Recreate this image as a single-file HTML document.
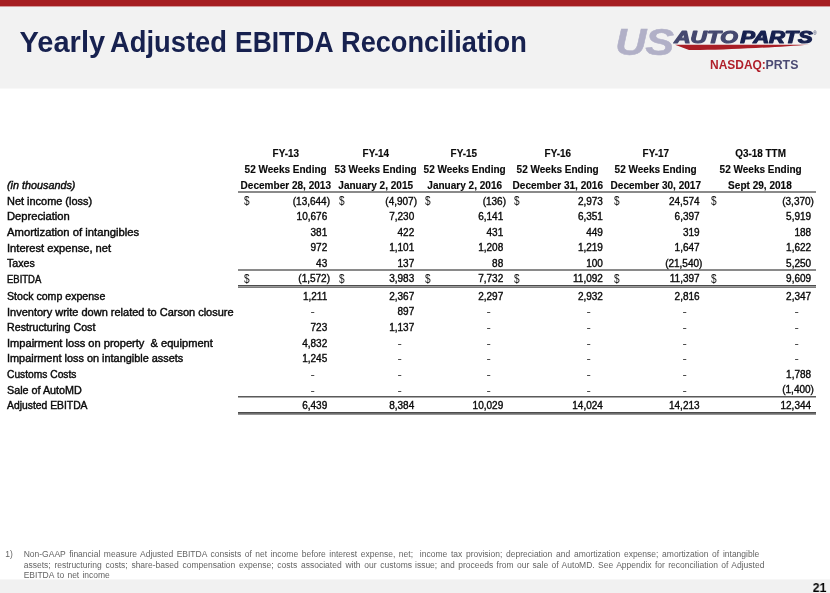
<!DOCTYPE html>
<html><head><meta charset="utf-8"><title>Yearly Adjusted EBITDA Reconciliation</title>
<style>
html,body{margin:0;padding:0;}
body{will-change:transform;width:830px;height:593px;position:relative;overflow:hidden;background:#fff;font-family:"Liberation Sans",sans-serif;}
.t{position:absolute;white-space:pre;line-height:1;display:block;}
.r{position:absolute;}
</style></head><body>
<div class="r" style="left:0;top:0;width:830px;height:88px;background:#f2f2f2"></div>
<div class="r" style="left:0;top:88px;width:830px;height:1px;background:#f8f8f8"></div>
<div class="r" style="left:0;top:0;width:830px;height:6px;background:#a61e22"></div>
<div class="r" style="left:0;top:6px;width:830px;height:1px;background:#d3999b"></div>
<div class="r" style="left:0;top:579px;width:830px;height:14px;background:#f1f1f1"></div>
<div class="r" style="left:0;top:579px;width:830px;height:1px;background:#f7f7f7"></div>
<!-- table rules -->
<div class="r" style="left:238px;top:191px;width:578px;height:1px;background:#8a8a8a"></div>
<div class="r" style="left:238px;top:192px;width:578px;height:1px;background:#8a8a8a"></div>
<div class="r" style="left:238px;top:269px;width:578px;height:1px;background:#8a8a8a"></div>
<div class="r" style="left:238px;top:270px;width:578px;height:1px;background:#8a8a8a"></div>
<div class="r" style="left:238px;top:285px;width:578px;height:1px;background:#4c4c4c"></div>
<div class="r" style="left:238px;top:286px;width:578px;height:1px;background:#9c9c9c"></div>
<div class="r" style="left:238px;top:287px;width:578px;height:1px;background:#7c7c7c"></div>
<div class="r" style="left:238px;top:396px;width:578px;height:1px;background:#5a5a5a"></div>
<div class="r" style="left:238px;top:397px;width:578px;height:1px;background:#aaaaaa"></div>
<div class="r" style="left:238px;top:412px;width:578px;height:1px;background:#4c4c4c"></div>
<div class="r" style="left:238px;top:413px;width:578px;height:1px;background:#6e6e6e"></div>
<div class="r" style="left:238px;top:414px;width:578px;height:1px;background:#949494"></div>
<!-- logo -->
<svg class="r" style="left:610px;top:24px" width="220" height="36" viewBox="610 24 220 36">
 <g font-family="Liberation Sans" font-style="italic" font-weight="700" font-size="36.9" fill="#b1b0c7" stroke="#b1b0c7" stroke-width="0.5">
  <text x="0" y="0" transform="translate(615.3 55.1) scale(1.17 1)">U</text>
  <text x="0" y="0" transform="translate(645.2 55.1) scale(1.17 1)">S</text>
 </g>
 <g font-family="Liberation Sans" font-style="italic" font-weight="700" font-size="16.6" stroke-width="1.15" stroke-linejoin="round">
  <text x="0" y="0" transform="translate(674.2 43.4) scale(1.365 1)" fill="#45486f" stroke="#45486f">AUTO</text>
  <text x="0" y="0" transform="translate(740.2 43.4) scale(1.325 1)" fill="#17214f" stroke="#17214f">PARTS</text>
 </g>
 <path d="M675 44.7 L809.5 44.7 C780 46.8 735 49.6 700 50.1 L689 50.1 Z" fill="#a91e26"/>
 <text x="813.3" y="35.3" font-family="Liberation Sans" font-size="4.5" fill="#17214f">®</text>
</svg>
<span class="t" style="top:28.05px;font-size:29.0px;color:#17214f;font-weight:700;left:19.60px;transform-origin:0 0;">Yearly</span>
<span class="t" style="top:28.05px;font-size:29.0px;color:#17214f;font-weight:700;left:110.00px;transform-origin:0 0;transform:scaleX(0.9431);">Adjusted</span>
<span class="t" style="top:28.05px;font-size:29.0px;color:#17214f;font-weight:700;left:235.00px;transform-origin:0 0;transform:scaleX(0.9125);">EBITDA</span>
<span class="t" style="top:28.05px;font-size:29.0px;color:#17214f;font-weight:700;left:340.50px;transform-origin:0 0;transform:scaleX(0.9374);">Reconciliation</span>
<span class="t" style="top:59.22px;font-size:12.5px;color:#b01f2a;font-weight:700;left:710.20px;transform-origin:0 0;transform:scaleX(0.9566);">NASDAQ:</span>
<span class="t" style="top:59.22px;font-size:12.5px;color:#4b4a73;font-weight:700;left:764.96px;transform-origin:100% 0;transform:scaleX(0.9839);">PRTS</span>
<span class="t" style="top:196.87px;font-size:10.2px;color:#0a0a0a;-webkit-text-stroke:0.4px #0a0a0a;left:6.70px;transform-origin:0 0;transform:scaleX(1.0737);">Net income (loss)</span>
<span class="t" style="top:212.43px;font-size:10.2px;color:#0a0a0a;-webkit-text-stroke:0.4px #0a0a0a;left:6.70px;transform-origin:0 0;transform:scaleX(1.0980);">Depreciation</span>
<span class="t" style="top:227.99px;font-size:10.2px;color:#0a0a0a;-webkit-text-stroke:0.4px #0a0a0a;left:6.70px;transform-origin:0 0;transform:scaleX(1.1056);">Amortization of intangibles</span>
<span class="t" style="top:243.55px;font-size:10.2px;color:#0a0a0a;-webkit-text-stroke:0.4px #0a0a0a;left:6.70px;transform-origin:0 0;transform:scaleX(1.0941);">Interest expense, net</span>
<span class="t" style="top:259.11px;font-size:10.2px;color:#0a0a0a;-webkit-text-stroke:0.4px #0a0a0a;left:6.70px;transform-origin:0 0;transform:scaleX(1.0447);">Taxes</span>
<span class="t" style="top:274.67px;font-size:10.2px;color:#0a0a0a;-webkit-text-stroke:0.4px #0a0a0a;left:6.70px;transform-origin:0 0;transform:scaleX(0.9295);">EBITDA</span>
<span class="t" style="top:291.87px;font-size:10.2px;color:#0a0a0a;-webkit-text-stroke:0.4px #0a0a0a;left:6.70px;transform-origin:0 0;transform:scaleX(1.0395);">Stock comp expense</span>
<span class="t" style="top:307.50px;font-size:10.2px;color:#0a0a0a;-webkit-text-stroke:0.4px #0a0a0a;left:6.70px;transform-origin:0 0;transform:scaleX(1.0787);">Inventory write down related to Carson closure</span>
<span class="t" style="top:323.13px;font-size:10.2px;color:#0a0a0a;-webkit-text-stroke:0.4px #0a0a0a;left:6.70px;transform-origin:0 0;transform:scaleX(1.0479);">Restructuring Cost</span>
<span class="t" style="top:338.76px;font-size:10.2px;color:#0a0a0a;-webkit-text-stroke:0.4px #0a0a0a;left:6.70px;transform-origin:0 0;transform:scaleX(1.0882);">Impairment loss on property &nbsp;&amp; equipment</span>
<span class="t" style="top:354.39px;font-size:10.2px;color:#0a0a0a;-webkit-text-stroke:0.4px #0a0a0a;left:6.70px;transform-origin:0 0;transform:scaleX(1.0699);">Impairment loss on intangible assets</span>
<span class="t" style="top:370.02px;font-size:10.2px;color:#0a0a0a;-webkit-text-stroke:0.4px #0a0a0a;left:6.70px;transform-origin:0 0;transform:scaleX(1.0049);">Customs Costs</span>
<span class="t" style="top:385.65px;font-size:10.2px;color:#0a0a0a;-webkit-text-stroke:0.4px #0a0a0a;left:6.70px;transform-origin:0 0;transform:scaleX(1.0568);">Sale of AutoMD</span>
<span class="t" style="top:401.28px;font-size:10.2px;color:#0a0a0a;-webkit-text-stroke:0.4px #0a0a0a;left:6.70px;transform-origin:0 0;transform:scaleX(1.0155);">Adjusted EBITDA</span>
<span class="t" style="top:181.27px;font-size:10.2px;color:#0a0a0a;font-style:italic;-webkit-text-stroke:0.4px #0a0a0a;left:6.90px;transform-origin:0 0;transform:scaleX(1.0595);">(in thousands)</span>
<span class="t" style="top:148.80px;font-size:10.4px;color:#0a0a0a;font-weight:700;-webkit-text-stroke:0.15px #0a0a0a;left:272.14px;transform-origin:50% 0;transform:scaleX(0.9550);">FY-13</span>
<span class="t" style="top:165.10px;font-size:10.4px;color:#0a0a0a;font-weight:700;-webkit-text-stroke:0.15px #0a0a0a;left:243.36px;transform-origin:50% 0;transform:scaleX(0.9630);">52 Weeks Ending</span>
<span class="t" style="top:180.70px;font-size:10.4px;color:#0a0a0a;font-weight:700;-webkit-text-stroke:0.15px #0a0a0a;left:239.21px;transform-origin:50% 0;transform:scaleX(0.9660);">December 28, 2013</span>
<span class="t" style="top:148.80px;font-size:10.4px;color:#0a0a0a;font-weight:700;-webkit-text-stroke:0.15px #0a0a0a;left:362.14px;transform-origin:50% 0;transform:scaleX(0.9550);">FY-14</span>
<span class="t" style="top:165.10px;font-size:10.4px;color:#0a0a0a;font-weight:700;-webkit-text-stroke:0.15px #0a0a0a;left:333.36px;transform-origin:50% 0;transform:scaleX(0.9630);">53 Weeks Ending</span>
<span class="t" style="top:180.70px;font-size:10.4px;color:#0a0a0a;font-weight:700;-webkit-text-stroke:0.15px #0a0a0a;left:337.30px;transform-origin:50% 0;transform:scaleX(0.9660);">January 2, 2015</span>
<span class="t" style="top:148.80px;font-size:10.4px;color:#0a0a0a;font-weight:700;-webkit-text-stroke:0.15px #0a0a0a;left:450.44px;transform-origin:50% 0;transform:scaleX(0.9550);">FY-15</span>
<span class="t" style="top:165.10px;font-size:10.4px;color:#0a0a0a;font-weight:700;-webkit-text-stroke:0.15px #0a0a0a;left:421.66px;transform-origin:50% 0;transform:scaleX(0.9630);">52 Weeks Ending</span>
<span class="t" style="top:180.70px;font-size:10.4px;color:#0a0a0a;font-weight:700;-webkit-text-stroke:0.15px #0a0a0a;left:425.60px;transform-origin:50% 0;transform:scaleX(0.9660);">January 2, 2016</span>
<span class="t" style="top:148.80px;font-size:10.4px;color:#0a0a0a;font-weight:700;-webkit-text-stroke:0.15px #0a0a0a;left:543.94px;transform-origin:50% 0;transform:scaleX(0.9550);">FY-16</span>
<span class="t" style="top:165.10px;font-size:10.4px;color:#0a0a0a;font-weight:700;-webkit-text-stroke:0.15px #0a0a0a;left:515.16px;transform-origin:50% 0;transform:scaleX(0.9630);">52 Weeks Ending</span>
<span class="t" style="top:180.70px;font-size:10.4px;color:#0a0a0a;font-weight:700;-webkit-text-stroke:0.15px #0a0a0a;left:511.01px;transform-origin:50% 0;transform:scaleX(0.9660);">December 31, 2016</span>
<span class="t" style="top:148.80px;font-size:10.4px;color:#0a0a0a;font-weight:700;-webkit-text-stroke:0.15px #0a0a0a;left:642.14px;transform-origin:50% 0;transform:scaleX(0.9550);">FY-17</span>
<span class="t" style="top:165.10px;font-size:10.4px;color:#0a0a0a;font-weight:700;-webkit-text-stroke:0.15px #0a0a0a;left:613.36px;transform-origin:50% 0;transform:scaleX(0.9630);">52 Weeks Ending</span>
<span class="t" style="top:180.70px;font-size:10.4px;color:#0a0a0a;font-weight:700;-webkit-text-stroke:0.15px #0a0a0a;left:609.21px;transform-origin:50% 0;transform:scaleX(0.9660);">December 30, 2017</span>
<span class="t" style="top:148.80px;font-size:10.4px;color:#0a0a0a;font-weight:700;-webkit-text-stroke:0.15px #0a0a0a;left:733.64px;transform-origin:50% 0;transform:scaleX(0.9550);">Q3-18 TTM</span>
<span class="t" style="top:165.10px;font-size:10.4px;color:#0a0a0a;font-weight:700;-webkit-text-stroke:0.15px #0a0a0a;left:717.56px;transform-origin:50% 0;transform:scaleX(0.9630);">52 Weeks Ending</span>
<span class="t" style="top:180.70px;font-size:10.4px;color:#0a0a0a;font-weight:700;-webkit-text-stroke:0.15px #0a0a0a;left:727.28px;transform-origin:50% 0;transform:scaleX(0.9660);">Sept 29, 2018</span>
<span class="t" style="top:196.68px;font-size:10.0px;color:#0a0a0a;-webkit-text-stroke:0.36px #0a0a0a;left:292.75px;transform-origin:100% 0;">(13,644)</span>
<span class="t" style="top:196.68px;font-size:10.0px;color:#0a0a0a;-webkit-text-stroke:0.36px #0a0a0a;left:385.32px;transform-origin:100% 0;">(4,907)</span>
<span class="t" style="top:196.68px;font-size:10.0px;color:#0a0a0a;-webkit-text-stroke:0.36px #0a0a0a;left:482.66px;transform-origin:100% 0;">(136)</span>
<span class="t" style="top:196.68px;font-size:10.0px;color:#0a0a0a;-webkit-text-stroke:0.36px #0a0a0a;left:577.88px;transform-origin:100% 0;">2,973</span>
<span class="t" style="top:196.68px;font-size:10.0px;color:#0a0a0a;-webkit-text-stroke:0.36px #0a0a0a;left:669.01px;transform-origin:100% 0;">24,574</span>
<span class="t" style="top:196.68px;font-size:10.0px;color:#0a0a0a;-webkit-text-stroke:0.36px #0a0a0a;left:782.22px;transform-origin:100% 0;">(3,370)</span>
<span class="t" style="top:195.14px;font-size:12.0px;color:#111;left:244.30px;transform-origin:0 0;transform:scaleX(0.8400);">$</span>
<span class="t" style="top:195.14px;font-size:12.0px;color:#111;left:339.10px;transform-origin:0 0;transform:scaleX(0.8400);">$</span>
<span class="t" style="top:195.14px;font-size:12.0px;color:#111;left:425.10px;transform-origin:0 0;transform:scaleX(0.8400);">$</span>
<span class="t" style="top:195.14px;font-size:12.0px;color:#111;left:514.10px;transform-origin:0 0;transform:scaleX(0.8400);">$</span>
<span class="t" style="top:195.14px;font-size:12.0px;color:#111;left:613.70px;transform-origin:0 0;transform:scaleX(0.8400);">$</span>
<span class="t" style="top:195.14px;font-size:12.0px;color:#111;left:710.80px;transform-origin:0 0;transform:scaleX(0.8400);">$</span>
<span class="t" style="top:212.24px;font-size:10.0px;color:#0a0a0a;-webkit-text-stroke:0.36px #0a0a0a;left:296.61px;transform-origin:100% 0;">10,676</span>
<span class="t" style="top:212.24px;font-size:10.0px;color:#0a0a0a;-webkit-text-stroke:0.36px #0a0a0a;left:389.18px;transform-origin:100% 0;">7,230</span>
<span class="t" style="top:212.24px;font-size:10.0px;color:#0a0a0a;-webkit-text-stroke:0.36px #0a0a0a;left:478.18px;transform-origin:100% 0;">6,141</span>
<span class="t" style="top:212.24px;font-size:10.0px;color:#0a0a0a;-webkit-text-stroke:0.36px #0a0a0a;left:577.88px;transform-origin:100% 0;">6,351</span>
<span class="t" style="top:212.24px;font-size:10.0px;color:#0a0a0a;-webkit-text-stroke:0.36px #0a0a0a;left:674.58px;transform-origin:100% 0;">6,397</span>
<span class="t" style="top:212.24px;font-size:10.0px;color:#0a0a0a;-webkit-text-stroke:0.36px #0a0a0a;left:786.08px;transform-origin:100% 0;">5,919</span>
<span class="t" style="top:227.80px;font-size:10.0px;color:#0a0a0a;-webkit-text-stroke:0.36px #0a0a0a;left:310.52px;transform-origin:100% 0;">381</span>
<span class="t" style="top:227.80px;font-size:10.0px;color:#0a0a0a;-webkit-text-stroke:0.36px #0a0a0a;left:397.52px;transform-origin:100% 0;">422</span>
<span class="t" style="top:227.80px;font-size:10.0px;color:#0a0a0a;-webkit-text-stroke:0.36px #0a0a0a;left:486.52px;transform-origin:100% 0;">431</span>
<span class="t" style="top:227.80px;font-size:10.0px;color:#0a0a0a;-webkit-text-stroke:0.36px #0a0a0a;left:586.22px;transform-origin:100% 0;">449</span>
<span class="t" style="top:227.80px;font-size:10.0px;color:#0a0a0a;-webkit-text-stroke:0.36px #0a0a0a;left:682.92px;transform-origin:100% 0;">319</span>
<span class="t" style="top:227.80px;font-size:10.0px;color:#0a0a0a;-webkit-text-stroke:0.36px #0a0a0a;left:794.42px;transform-origin:100% 0;">188</span>
<span class="t" style="top:243.36px;font-size:10.0px;color:#0a0a0a;-webkit-text-stroke:0.36px #0a0a0a;left:310.52px;transform-origin:100% 0;">972</span>
<span class="t" style="top:243.36px;font-size:10.0px;color:#0a0a0a;-webkit-text-stroke:0.36px #0a0a0a;left:389.18px;transform-origin:100% 0;">1,101</span>
<span class="t" style="top:243.36px;font-size:10.0px;color:#0a0a0a;-webkit-text-stroke:0.36px #0a0a0a;left:478.18px;transform-origin:100% 0;">1,208</span>
<span class="t" style="top:243.36px;font-size:10.0px;color:#0a0a0a;-webkit-text-stroke:0.36px #0a0a0a;left:577.88px;transform-origin:100% 0;">1,219</span>
<span class="t" style="top:243.36px;font-size:10.0px;color:#0a0a0a;-webkit-text-stroke:0.36px #0a0a0a;left:674.58px;transform-origin:100% 0;">1,647</span>
<span class="t" style="top:243.36px;font-size:10.0px;color:#0a0a0a;-webkit-text-stroke:0.36px #0a0a0a;left:786.08px;transform-origin:100% 0;">1,622</span>
<span class="t" style="top:258.93px;font-size:10.0px;color:#0a0a0a;-webkit-text-stroke:0.36px #0a0a0a;left:316.08px;transform-origin:100% 0;">43</span>
<span class="t" style="top:258.93px;font-size:10.0px;color:#0a0a0a;-webkit-text-stroke:0.36px #0a0a0a;left:397.52px;transform-origin:100% 0;">137</span>
<span class="t" style="top:258.93px;font-size:10.0px;color:#0a0a0a;-webkit-text-stroke:0.36px #0a0a0a;left:492.08px;transform-origin:100% 0;">88</span>
<span class="t" style="top:258.93px;font-size:10.0px;color:#0a0a0a;-webkit-text-stroke:0.36px #0a0a0a;left:586.22px;transform-origin:100% 0;">100</span>
<span class="t" style="top:258.93px;font-size:10.0px;color:#0a0a0a;-webkit-text-stroke:0.36px #0a0a0a;left:665.15px;transform-origin:100% 0;">(21,540)</span>
<span class="t" style="top:258.93px;font-size:10.0px;color:#0a0a0a;-webkit-text-stroke:0.36px #0a0a0a;left:786.08px;transform-origin:100% 0;">5,250</span>
<span class="t" style="top:274.49px;font-size:10.0px;color:#0a0a0a;-webkit-text-stroke:0.36px #0a0a0a;left:298.32px;transform-origin:100% 0;">(1,572)</span>
<span class="t" style="top:274.49px;font-size:10.0px;color:#0a0a0a;-webkit-text-stroke:0.36px #0a0a0a;left:389.18px;transform-origin:100% 0;">3,983</span>
<span class="t" style="top:274.49px;font-size:10.0px;color:#0a0a0a;-webkit-text-stroke:0.36px #0a0a0a;left:478.18px;transform-origin:100% 0;">7,732</span>
<span class="t" style="top:274.49px;font-size:10.0px;color:#0a0a0a;-webkit-text-stroke:0.36px #0a0a0a;left:573.06px;transform-origin:100% 0;">11,092</span>
<span class="t" style="top:274.49px;font-size:10.0px;color:#0a0a0a;-webkit-text-stroke:0.36px #0a0a0a;left:669.76px;transform-origin:100% 0;">11,397</span>
<span class="t" style="top:274.49px;font-size:10.0px;color:#0a0a0a;-webkit-text-stroke:0.36px #0a0a0a;left:786.08px;transform-origin:100% 0;">9,609</span>
<span class="t" style="top:272.94px;font-size:12.0px;color:#111;left:244.30px;transform-origin:0 0;transform:scaleX(0.8400);">$</span>
<span class="t" style="top:272.94px;font-size:12.0px;color:#111;left:339.10px;transform-origin:0 0;transform:scaleX(0.8400);">$</span>
<span class="t" style="top:272.94px;font-size:12.0px;color:#111;left:425.10px;transform-origin:0 0;transform:scaleX(0.8400);">$</span>
<span class="t" style="top:272.94px;font-size:12.0px;color:#111;left:514.10px;transform-origin:0 0;transform:scaleX(0.8400);">$</span>
<span class="t" style="top:272.94px;font-size:12.0px;color:#111;left:613.70px;transform-origin:0 0;transform:scaleX(0.8400);">$</span>
<span class="t" style="top:272.94px;font-size:12.0px;color:#111;left:710.80px;transform-origin:0 0;transform:scaleX(0.8400);">$</span>
<span class="t" style="top:291.69px;font-size:10.0px;color:#0a0a0a;-webkit-text-stroke:0.36px #0a0a0a;left:302.92px;transform-origin:100% 0;">1,211</span>
<span class="t" style="top:291.69px;font-size:10.0px;color:#0a0a0a;-webkit-text-stroke:0.36px #0a0a0a;left:389.18px;transform-origin:100% 0;">2,367</span>
<span class="t" style="top:291.69px;font-size:10.0px;color:#0a0a0a;-webkit-text-stroke:0.36px #0a0a0a;left:478.18px;transform-origin:100% 0;">2,297</span>
<span class="t" style="top:291.69px;font-size:10.0px;color:#0a0a0a;-webkit-text-stroke:0.36px #0a0a0a;left:577.88px;transform-origin:100% 0;">2,932</span>
<span class="t" style="top:291.69px;font-size:10.0px;color:#0a0a0a;-webkit-text-stroke:0.36px #0a0a0a;left:674.58px;transform-origin:100% 0;">2,816</span>
<span class="t" style="top:291.69px;font-size:10.0px;color:#0a0a0a;-webkit-text-stroke:0.36px #0a0a0a;left:786.08px;transform-origin:100% 0;">2,347</span>
<span class="t" style="top:307.42px;font-size:10.0px;color:#333;left:310.93px;transform-origin:50% 0;transform:scaleX(1.3000);">-</span>
<span class="t" style="top:307.31px;font-size:10.0px;color:#0a0a0a;-webkit-text-stroke:0.36px #0a0a0a;left:397.52px;transform-origin:100% 0;">897</span>
<span class="t" style="top:307.42px;font-size:10.0px;color:#333;left:486.93px;transform-origin:50% 0;transform:scaleX(1.3000);">-</span>
<span class="t" style="top:307.42px;font-size:10.0px;color:#333;left:586.63px;transform-origin:50% 0;transform:scaleX(1.3000);">-</span>
<span class="t" style="top:307.42px;font-size:10.0px;color:#333;left:683.33px;transform-origin:50% 0;transform:scaleX(1.3000);">-</span>
<span class="t" style="top:307.42px;font-size:10.0px;color:#333;left:794.83px;transform-origin:50% 0;transform:scaleX(1.3000);">-</span>
<span class="t" style="top:322.94px;font-size:10.0px;color:#0a0a0a;-webkit-text-stroke:0.36px #0a0a0a;left:310.52px;transform-origin:100% 0;">723</span>
<span class="t" style="top:322.94px;font-size:10.0px;color:#0a0a0a;-webkit-text-stroke:0.36px #0a0a0a;left:389.18px;transform-origin:100% 0;">1,137</span>
<span class="t" style="top:323.05px;font-size:10.0px;color:#333;left:486.93px;transform-origin:50% 0;transform:scaleX(1.3000);">-</span>
<span class="t" style="top:323.05px;font-size:10.0px;color:#333;left:586.63px;transform-origin:50% 0;transform:scaleX(1.3000);">-</span>
<span class="t" style="top:323.05px;font-size:10.0px;color:#333;left:683.33px;transform-origin:50% 0;transform:scaleX(1.3000);">-</span>
<span class="t" style="top:323.05px;font-size:10.0px;color:#333;left:794.83px;transform-origin:50% 0;transform:scaleX(1.3000);">-</span>
<span class="t" style="top:338.57px;font-size:10.0px;color:#0a0a0a;-webkit-text-stroke:0.36px #0a0a0a;left:302.18px;transform-origin:100% 0;">4,832</span>
<span class="t" style="top:338.68px;font-size:10.0px;color:#333;left:397.93px;transform-origin:50% 0;transform:scaleX(1.3000);">-</span>
<span class="t" style="top:338.68px;font-size:10.0px;color:#333;left:486.93px;transform-origin:50% 0;transform:scaleX(1.3000);">-</span>
<span class="t" style="top:338.68px;font-size:10.0px;color:#333;left:586.63px;transform-origin:50% 0;transform:scaleX(1.3000);">-</span>
<span class="t" style="top:338.68px;font-size:10.0px;color:#333;left:683.33px;transform-origin:50% 0;transform:scaleX(1.3000);">-</span>
<span class="t" style="top:338.68px;font-size:10.0px;color:#333;left:794.83px;transform-origin:50% 0;transform:scaleX(1.3000);">-</span>
<span class="t" style="top:354.20px;font-size:10.0px;color:#0a0a0a;-webkit-text-stroke:0.36px #0a0a0a;left:302.18px;transform-origin:100% 0;">1,245</span>
<span class="t" style="top:354.31px;font-size:10.0px;color:#333;left:397.93px;transform-origin:50% 0;transform:scaleX(1.3000);">-</span>
<span class="t" style="top:354.31px;font-size:10.0px;color:#333;left:486.93px;transform-origin:50% 0;transform:scaleX(1.3000);">-</span>
<span class="t" style="top:354.31px;font-size:10.0px;color:#333;left:586.63px;transform-origin:50% 0;transform:scaleX(1.3000);">-</span>
<span class="t" style="top:354.31px;font-size:10.0px;color:#333;left:683.33px;transform-origin:50% 0;transform:scaleX(1.3000);">-</span>
<span class="t" style="top:354.31px;font-size:10.0px;color:#333;left:794.83px;transform-origin:50% 0;transform:scaleX(1.3000);">-</span>
<span class="t" style="top:369.94px;font-size:10.0px;color:#333;left:310.93px;transform-origin:50% 0;transform:scaleX(1.3000);">-</span>
<span class="t" style="top:369.94px;font-size:10.0px;color:#333;left:397.93px;transform-origin:50% 0;transform:scaleX(1.3000);">-</span>
<span class="t" style="top:369.94px;font-size:10.0px;color:#333;left:486.93px;transform-origin:50% 0;transform:scaleX(1.3000);">-</span>
<span class="t" style="top:369.94px;font-size:10.0px;color:#333;left:586.63px;transform-origin:50% 0;transform:scaleX(1.3000);">-</span>
<span class="t" style="top:369.94px;font-size:10.0px;color:#333;left:683.33px;transform-origin:50% 0;transform:scaleX(1.3000);">-</span>
<span class="t" style="top:369.84px;font-size:10.0px;color:#0a0a0a;-webkit-text-stroke:0.36px #0a0a0a;left:786.08px;transform-origin:100% 0;">1,788</span>
<span class="t" style="top:385.57px;font-size:10.0px;color:#333;left:310.93px;transform-origin:50% 0;transform:scaleX(1.3000);">-</span>
<span class="t" style="top:385.57px;font-size:10.0px;color:#333;left:397.93px;transform-origin:50% 0;transform:scaleX(1.3000);">-</span>
<span class="t" style="top:385.57px;font-size:10.0px;color:#333;left:486.93px;transform-origin:50% 0;transform:scaleX(1.3000);">-</span>
<span class="t" style="top:385.57px;font-size:10.0px;color:#333;left:586.63px;transform-origin:50% 0;transform:scaleX(1.3000);">-</span>
<span class="t" style="top:385.57px;font-size:10.0px;color:#333;left:683.33px;transform-origin:50% 0;transform:scaleX(1.3000);">-</span>
<span class="t" style="top:385.47px;font-size:10.0px;color:#0a0a0a;-webkit-text-stroke:0.36px #0a0a0a;left:782.22px;transform-origin:100% 0;">(1,400)</span>
<span class="t" style="top:401.10px;font-size:10.0px;color:#0a0a0a;-webkit-text-stroke:0.36px #0a0a0a;left:302.18px;transform-origin:100% 0;">6,439</span>
<span class="t" style="top:401.10px;font-size:10.0px;color:#0a0a0a;-webkit-text-stroke:0.36px #0a0a0a;left:389.18px;transform-origin:100% 0;">8,384</span>
<span class="t" style="top:401.10px;font-size:10.0px;color:#0a0a0a;-webkit-text-stroke:0.36px #0a0a0a;left:472.61px;transform-origin:100% 0;">10,029</span>
<span class="t" style="top:401.10px;font-size:10.0px;color:#0a0a0a;-webkit-text-stroke:0.36px #0a0a0a;left:572.31px;transform-origin:100% 0;">14,024</span>
<span class="t" style="top:401.10px;font-size:10.0px;color:#0a0a0a;-webkit-text-stroke:0.36px #0a0a0a;left:669.01px;transform-origin:100% 0;">14,213</span>
<span class="t" style="top:401.10px;font-size:10.0px;color:#0a0a0a;-webkit-text-stroke:0.36px #0a0a0a;left:780.51px;transform-origin:100% 0;">12,344</span>
<span class="t" style="top:550.40px;font-size:8.5px;color:#646464;left:5.30px;transform-origin:0 0;">1)</span>
<span class="t" style="top:550.40px;font-size:8.5px;color:#646464;word-spacing:1.193px;left:23.70px;transform-origin:0 0;">Non-GAAP financial measure Adjusted EBITDA consists of net income before interest expense, net;</span>
<span class="t" style="top:550.40px;font-size:8.5px;color:#646464;word-spacing:1.340px;left:419.80px;transform-origin:0 0;">income tax provision; depreciation and amortization expense; amortization of intangible</span>
<span class="t" style="top:560.70px;font-size:8.5px;color:#646464;word-spacing:1.412px;left:23.70px;transform-origin:0 0;">assets; restructuring costs; share-based compensation expense; costs associated with our customs</span>
<span class="t" style="top:560.70px;font-size:8.5px;color:#646464;word-spacing:1.034px;left:415.00px;transform-origin:0 0;">issue; and proceeds from our sale of AutoMD. See Appendix for reconciliation of Adjusted</span>
<span class="t" style="top:571.00px;font-size:8.5px;color:#646464;word-spacing:0.836px;left:23.70px;transform-origin:0 0;">EBITDA to net income</span>
<span class="t" style="top:581.00px;font-size:13.0px;color:#000;font-weight:700;left:812.34px;transform-origin:100% 0;transform:scaleX(0.9544);">21</span>
</body></html>
